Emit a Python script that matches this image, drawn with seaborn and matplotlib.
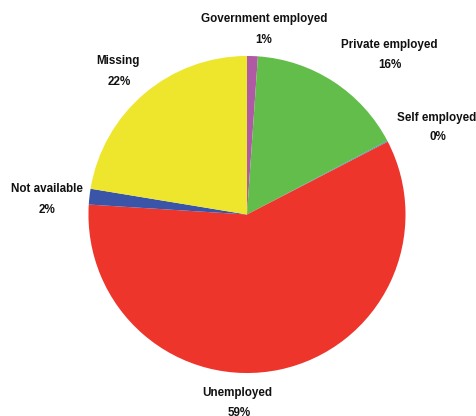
import matplotlib
matplotlib.use("Agg")
import matplotlib.pyplot as plt
import seaborn as sns

# Employment status shares (percent)
categories = ["Government employed", "Private employed", "Self employed",
              "Unemployed", "Not available", "Missing"]
shares = [1.1, 16.2, 0.1, 58.6, 1.6, 22.4]
colors = ["#B05AA5", "#63BD4B", "#2E9FC4", "#EE352C", "#3A55A8", "#EEE62C"]

# Label anchors in pie units (name line, percent line), same order as categories
name_pos = [(0.106, 1.233), (0.899, 1.069), (1.197, 0.609),
            (-0.059, -1.128), (-1.260, 0.159), (-0.811, 0.968)]
pct_pos = [(0.107, 1.101), (0.902, 0.943), (1.205, 0.489),
           (-0.050, -1.250), (-1.262, 0.028), (-0.808, 0.838)]

sns.set_theme(style="white")
plt.rcParams["font.family"] = ["Liberation Sans", "DejaVu Sans"]

fig = plt.figure(figsize=(4.77, 4.16), dpi=100)
ax = fig.add_axes([0, 0, 1, 1])

ax.pie(shares, colors=colors, startangle=90, counterclock=False,
       radius=1.0, wedgeprops=dict(linewidth=0))

for name, value, (nx, ny), (px, py) in zip(categories, shares, name_pos, pct_pos):
    ax.text(nx, ny, name, ha="center", va="center", fontsize=8.4,
            fontweight="bold", color="#111111")
    ax.text(px, py, f"{round(value)}%", ha="center", va="center", fontsize=8.4,
            fontweight="bold", color="#111111")

ax.set_aspect("auto")
ax.set_xlim(-1.558, 1.451)
ax.set_ylim(-1.271, 1.353)
ax.axis("off")

fig.savefig("out.png", dpi=100, facecolor="white")
